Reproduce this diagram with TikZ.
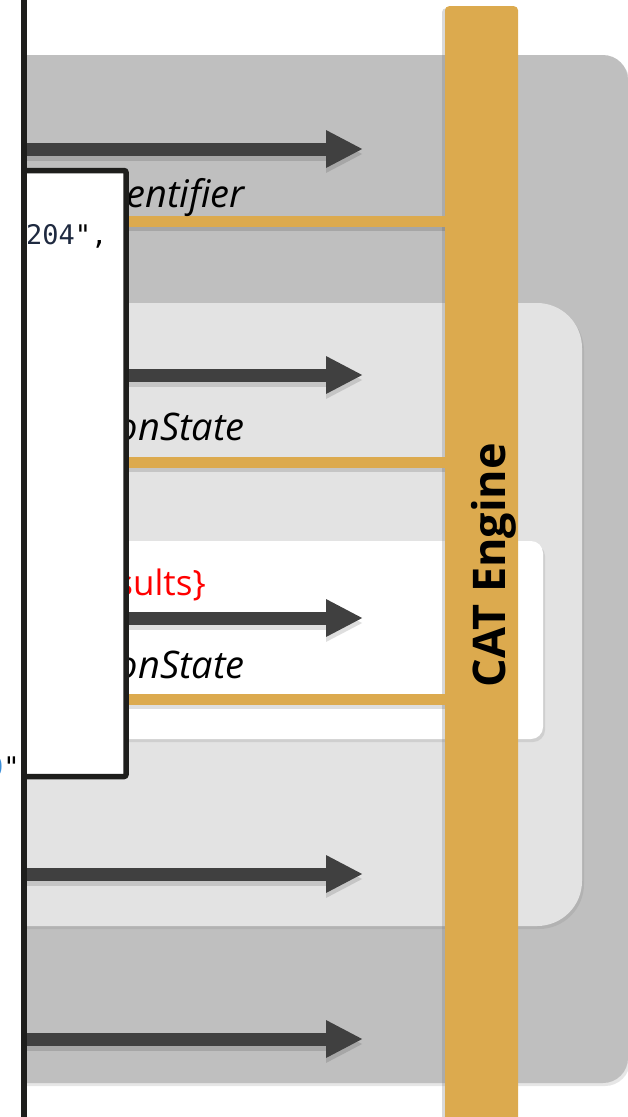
\documentclass[tikz,border=0pt]{standalone}
\usepackage{fontspec}
\setmainfont{Open Sans}
\setmonofont{DejaVu Sans Mono}
\usetikzlibrary{arrows.meta,shadows}

\definecolor{bgdark}{HTML}{BFBFBF}
\definecolor{bgmid}{HTML}{E3E3E3}
\definecolor{gold}{HTML}{DCAA4E}
\definecolor{arrowgray}{HTML}{404040}
\definecolor{framegray}{HTML}{1E1E1C}
\definecolor{codeblue}{HTML}{3B8ED8}
\definecolor{codedark}{HTML}{1F2A40}

\begin{document}
\begin{tikzpicture}
[
  x=1pt, y=-1pt,
  >={Triangle[length=37pt,width=35pt]},
  request/.style = {draw=arrowgray, line width=13pt, ->},
  requestshadow/.style = {request, draw=black, opacity=0.13, transform canvas={yshift=-5pt}},
  reply/.style = {draw=gold, line width=11pt},
  replyshadow/.style = {draw=black, line width=9pt, opacity=0.13, transform canvas={yshift=-5pt}},
  call/.style = {font=\fontsize{38}{40}\selectfont\itshape, anchor=base east, inner sep=0pt},
  enginebar/.style = {fill=gold, rounded corners=4pt, anchor=north, minimum width=73pt,
    minimum height=1130pt, inner sep=0pt,
    drop shadow={opacity=0.3, shadow xshift=-3pt, shadow yshift=-2pt}},
  panel/.style = {drop shadow={opacity=0.2, shadow xshift=2pt, shadow yshift=-3pt}},
  code/.style = {anchor=base west, inner sep=0pt, font=\fontsize{27}{30}\selectfont\ttfamily},
]
\useasboundingbox (0,0) rectangle (628,1117);

% nested rounded areas
\path[panel, fill=bgdark, rounded corners=25pt] (-40,55) rectangle (628,1083);
\path[panel, fill=bgmid, rounded corners=45pt] (-40,303) rectangle (582,926);
\path[panel, fill=white, rounded corners=12pt] (-40,541) rectangle (543,739);

% the engine
\node (engine) [enginebar] at (481.5,6) {};
\node (enginetext) [rotate=90, anchor=base, inner sep=0pt,
  font=\fontsize{45}{48}\selectfont\bfseries] at (505,565) {CAT Engine};

% requests and replies
\coordinate (req1s) at (0,149);  \coordinate (req1e) at (363,149);
\coordinate (req2s) at (0,375);  \coordinate (req2e) at (363,375);
\coordinate (req3s) at (0,618);  \coordinate (req3e) at (363,618);
\coordinate (req4s) at (0,874);  \coordinate (req4e) at (363,874);
\coordinate (req5s) at (0,1039); \coordinate (req5e) at (363,1039);
\coordinate (res1) at (0,221);
\coordinate (res2) at (0,462);
\coordinate (res3) at (0,699);

\draw[requestshadow] (req1s) -- (req1e);
\draw[requestshadow] (req2s) -- (req2e);
\draw[requestshadow] (req3s) -- (req3e);
\draw[requestshadow] (req4s) -- (req4e);
\draw[requestshadow] (req5s) -- (req5e);
\draw[replyshadow] (res1) -- (res1 -| engine.west);
\draw[replyshadow] (res2) -- (res2 -| engine.west);
\draw[replyshadow] (res3) -- (res3 -| engine.west);

\draw[request] (req1s) -- (req1e);
\draw[request] (req2s) -- (req2e);
\draw[request] (req3s) -- (req3e);
\draw[request] (req4s) -- (req4e);
\draw[request] (req5s) -- (req5e);
\draw[reply] (res1) -- (res1 -| engine.west);
\draw[reply] (res2) -- (res2 -| engine.west);
\draw[reply] (res3) -- (res3 -| engine.west);

\node (lab1) [call] at (245,207) {entifier};
\node (lab2) [call] at (245,440) {onState};
\node (lab3) [call, font=\fontsize{35}{38}\selectfont, text=red] at (206,595) {sults\}};
\node (lab4) [call] at (245,678) {onState};

% code window
\fill[white] (24,170.5) rectangle (126,776.5);
\begin{scope}
  \clip (26.5,173) rectangle (123.5,774);
  \node (code1) [code] at (26,244) {\textcolor{codedark}{204}",};
\end{scope}
\draw[framegray, line width=5.5pt, rounded corners=2pt] (24,170.5) rectangle (126,776.5);

% client panel
\fill[white] (-10,-10) rectangle (23.5,1127);
\draw[framegray, line width=6pt] (23.5,-10) -- (23.5,1127);
\node (code2) [code] at (-13,776) {\textcolor{codeblue}{0}"};

\end{tikzpicture}
\end{document}
